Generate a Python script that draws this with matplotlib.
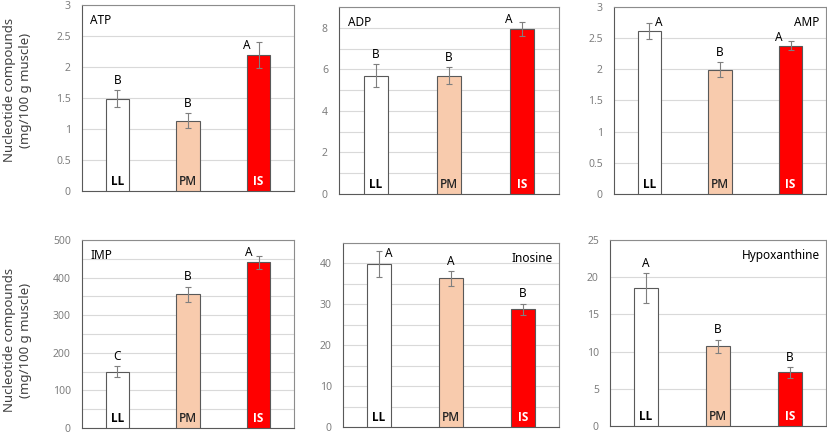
#!/usr/bin/env python3
import matplotlib
matplotlib.use("Agg")
import matplotlib.pyplot as plt
import numpy as np

plt.rcParams["font.family"] = ["Noto Sans", "DejaVu Sans"]

groups = ["LL", "PM", "IS"]
compounds = ["ATP", "ADP", "AMP", "IMP", "Inosine", "Hypoxanthine"]

atp_mean = [1.49, 1.13, 2.20]
atp_err = [0.14, 0.12, 0.21]
atp_letters = ["B", "B", "A"]

adp_mean = [5.70, 5.70, 7.95]
adp_err = [0.57, 0.40, 0.33]
adp_letters = ["B", "B", "A"]

amp_mean = [2.62, 1.99, 2.38]
amp_err = [0.13, 0.12, 0.07]
amp_letters = ["A", "B", "A"]

imp_mean = [150, 356, 441]
imp_err = [15, 20, 17]
imp_letters = ["C", "B", "A"]

ino_mean = [39.8, 36.4, 28.8]
ino_err = [3.2, 1.8, 1.4]
ino_letters = ["A", "A", "B"]

hx_mean = [18.5, 10.7, 7.2]
hx_err = [2.0, 0.9, 0.7]
hx_letters = ["A", "B", "B"]

means = [atp_mean, adp_mean, amp_mean, imp_mean, ino_mean, hx_mean]
errs = [atp_err, adp_err, amp_err, imp_err, ino_err, hx_err]
letters = [atp_letters, adp_letters, amp_letters, imp_letters, ino_letters, hx_letters]

# axis setup: (ymax, label step, grid step)
yaxes = [(3, 0.5, 0.5), (9, 2, 1), (3, 0.5, 0.5),
         (500, 100, 50), (45, 10, 5), (25, 5, 5)]
# panel boxes in pixels (x0, y0, x1, y1), origin top-left
boxes = [(82, 5, 294, 191), (339, 7, 559, 194), (614, 7, 826, 194),
         (82, 240, 294, 428), (343, 243, 559, 427), (610, 240, 826, 426)]
title_right = [False, False, True, False, True, True]
# letter offsets in points (dx, dy) relative to error bar top
letter_off = [
    [(0, 7), (0, 7), (-8.5, -3)],
    [(0, 7), (0, 7), (-10, 2)],
    [(7, 0), (0, 7), (-8.5, 3)],
    [(0, 7), (0, 7), (-7, 2.5)],
    [(7, -1.5), (0, 7), (0, 7)],
    [(0, 7), (0, 7), (0, 7)],
]

fills = ["white", "#F8CBAD", "#FF0000"]
lab_style = [dict(color="black", weight="bold"),
             dict(color="#262626", weight="semibold"),
             dict(color="white", weight="bold")]

W, H = 827, 434
fig = plt.figure(figsize=(W / 100, H / 100), dpi=100)

for i in range(6):
    x0, y0, x1, y1 = boxes[i]
    ax = fig.add_axes([x0 / W, 1 - y1 / H, (x1 - x0) / W, (y1 - y0) / H])
    ymax, step, gstep = yaxes[i]
    x = np.arange(3)
    ax.bar(x, means[i], width=0.33, color=fills, edgecolor="#595959",
           linewidth=0.8, zorder=3)
    ax.errorbar(x, means[i], yerr=errs[i], fmt="none", ecolor="#7f7f7f",
                elinewidth=0.8, capsize=2.5, capthick=0.8, zorder=4)
    ax.set_xlim(-0.5, 2.5)
    ax.set_ylim(0, ymax)
    ax.set_yticks(np.arange(0, ymax + 1e-9, step))
    ax.set_yticks(np.arange(0, ymax + 1e-9, gstep), minor=True)
    ax.yaxis.grid(True, which="both", color="#D9D9D9", linewidth=0.8, zorder=0)
    ax.set_axisbelow(True)
    ax.set_xticks([])
    ax.tick_params(axis="y", which="both", length=0, labelsize=7.5,
                   labelcolor="#7f7f7f", pad=8)
    ax.yaxis.set_major_formatter(plt.FuncFormatter(lambda v, p: f"{v:g}"))
    for s in ax.spines.values():
        s.set_color("#8c8c8c")
        s.set_linewidth(0.8)
    ax.spines["left"].set_color("#595959")
    ax.spines["bottom"].set_color("#595959")

    for j in range(3):
        top = means[i][j] + errs[i][j]
        dx, dy = letter_off[i][j]
        ax.annotate(letters[i][j], (x[j], top), xytext=(dx, dy),
                    textcoords="offset points", ha="center", va="center",
                    fontsize=8.5, color="black", zorder=5)
        ax.annotate(groups[j], (x[j], 0), xytext=(0, 2),
                    textcoords="offset points", ha="center", va="bottom",
                    fontsize=8.5, zorder=5, family=["Open Sans", "DejaVu Sans"],
                    **lab_style[j])

    if title_right[i]:
        ax.text(0.97, 0.95, compounds[i], transform=ax.transAxes,
                ha="right", va="top", fontsize=8.5, color="black")
    else:
        ax.text(0.04, 0.95, compounds[i], transform=ax.transAxes,
                ha="left", va="top", fontsize=8.5, color="black")

for yc in (90, 340):
    fig.text(18 / W, 1 - yc / H, "Nucleotide compounds\n(mg/100 g muscle)",
             rotation=90, ha="center", va="center", fontsize=9.5,
             color="#404040", linespacing=1.3)

fig.savefig("out.png", dpi=100)
